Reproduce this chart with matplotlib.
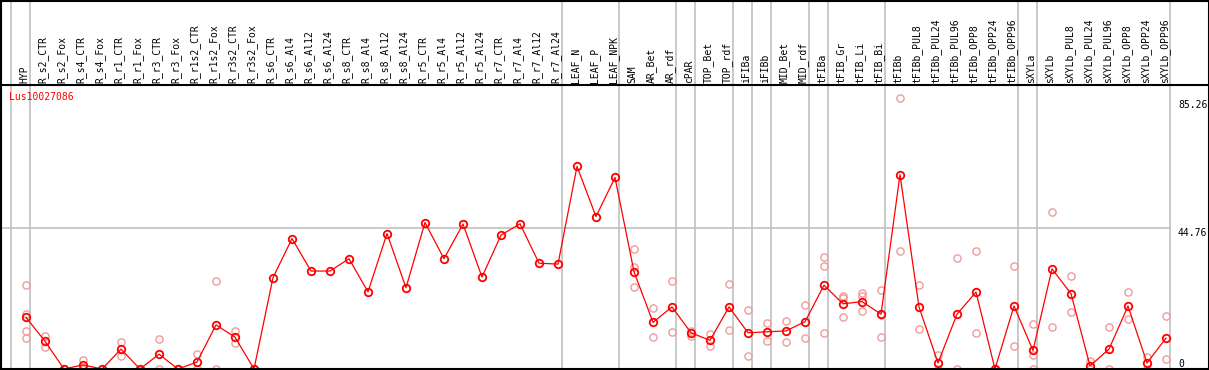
import numpy as np
import matplotlib.pyplot as plt
from matplotlib.lines import Line2D
import matplotlib.transforms as mtransforms

# etiquetas de las columnas (muestras)
muestras = [
    'HYP', 'R_s2_CTR', 'R_s2_Fox', 'R_s4_CTR', 'R_s4_Fox', 'R_r1_CTR', 'R_r1_Fox',
    'R_r3_CTR', 'R_r3_Fox', 'R_r1s2_CTR', 'R_r1s2_Fox', 'R_r3s2_CTR', 'R_r3s2_Fox',
    'R_s6_CTR', 'R_s6_Al4', 'R_s6_Al12', 'R_s6_Al24', 'R_s8_CTR', 'R_s8_Al4',
    'R_s8_Al12', 'R_s8_Al24', 'R_r5_CTR', 'R_r5_Al4', 'R_r5_Al12', 'R_r5_Al24',
    'R_r7_CTR', 'R_r7_Al4', 'R_r7_Al12', 'R_r7_Al24', 'LEAF_N', 'LEAF_P', 'LEAF_NPK',
    'SAM', 'AR_Bet', 'AR_rdf', 'cPAR', 'TOP_Bet', 'TOP_rdf', 'iFIBa', 'iFIBb',
    'MID_Bet', 'MID_rdf', 'tFIBa', 'tFIB_Gr', 'tFIB_Li', 'tFIB_Bi', 'tFIBb',
    'tFIBb_PUL8', 'tFIBb_PUL24', 'tFIBb_PUL96', 'tFIBb_OPP8', 'tFIBb_OPP24',
    'tFIBb_OPP96', 'sXYLa', 'sXYLb', 'sXYLb_PUL8', 'sXYLb_PUL24', 'sXYLb_PUL96',
    'sXYLb_OPP8', 'sXYLb_OPP24', 'sXYLb_OPP96',
]

# valores medios
medias = [
    16.4, 8.8, 0, 1.3, 0, 6.3, 0, 4.7, 0, 2.2, 14.0, 10.1, 0,
    29.0, 41.4, 31.1, 31.1, 35.0, 24.5, 43.0, 25.8, 46.5, 35.0, 46.0, 29.2,
    42.5, 46.1, 33.6, 33.3, 64.3, 48.4, 60.8,
    30.9, 14.8, 19.7, 11.5, 9.1, 19.7, 11.5, 11.8, 12.1, 15.0,
    26.6, 20.7, 21.4, 17.4, 61.7, 19.7, 1.9, 17.4, 24.4, 0, 20.0,
    5.9, 31.8, 23.9, 1.0, 6.3, 20.0, 1.9, 9.8,
]

# replicas individuales
replicas = [
    [26.6, 17.6, 12.0, 9.9], [10.6, 7.1], [0, 0], [2.8, 0], [0, 0], [8.6, 4.0],
    [0, 0], [9.4, 0], [0, 0], [4.7, 0], [28.0, 0], [12.0, 8.4], [0, 0],
    [], [], [], [], [], [], [], [], [], [], [], [], [], [], [], [], [], [], [],
    [38.2, 32.3, 26.1], [19.3, 10.1], [28.0, 11.8], [12.1, 10.6], [11.2, 7.2],
    [26.9, 12.4], [18.7, 4.1], [14.6, 8.8], [15.2, 8.6], [20.4, 9.9],
    [35.5, 32.7, 11.3], [23.3, 22.5, 16.4], [24.1, 23.3, 18.3], [25.0, 17.2, 10.1],
    [86.1, 37.4], [26.6, 12.6], [4.5, 0], [35.3, 0], [37.5, 11.3], [0, 0],
    [32.7, 7.2], [14.3, 4.3, 0], [49.9, 13.4], [29.6, 18.0], [2.4, 0], [13.2, 0],
    [24.5, 15.9], [3.9, 0], [16.9, 3.1],
]

# ultimo indice de cada grupo (lineas grises separadoras)
fin_grupos = [-1, 0, 28, 31, 34, 35, 37, 38, 39, 41, 42, 45, 52, 53, 60]

marcas_y = [85.26, 44.76, 0]
gen_id = 'Lus10027086'

W, H = 1209, 370
GRIS = '#c0c0c0'
ROJO = '#ff0000'
ROSA = '#f09c9c'
fuente = 'DejaVu Sans Mono'
tam = 7.0

fig = plt.figure(figsize=(W / 100, H / 100), dpi=100)

# area del grafico en pixeles: x 1..1171, y 85..369
izq, der, arr, aba = 1, 1171, 85, 369
ax = fig.add_axes([izq / W, 1 - aba / H, (der - izq) / W, (aba - arr) / H])
paso = 19.0
px_por_unidad = 141 / 44.76
ax.set_xlim((izq - 26) / paso, (der - 26) / paso)
ax.set_ylim(0, (aba - arr) / px_por_unidad)
for s in ax.spines.values():
    s.set_visible(False)
ax.set_xticks([])
ax.set_yticks([])

x = np.arange(len(muestras))

# lineas grises
ax.axhline(44.76, color=GRIS, lw=1.2, zorder=1)
y_top = aba / (aba - arr)
for k in fin_grupos:
    ax.axvline(k + 4 / paso, ymin=0, ymax=y_top, color=GRIS, lw=1.2,
               clip_on=False, zorder=1)

# replicas
for i, vals in enumerate(replicas):
    if vals:
        ax.plot([i] * len(vals), vals, 'o', ms=5.2, mfc='none', mec=ROSA,
                mew=1.0, zorder=2)

# medias
ax.plot(x, medias, '-', color=ROJO, lw=0.9, zorder=3)
ax.plot(x, medias, 'o', ms=5.4, mfc='none', mec=ROJO, mew=1.3, zorder=4)

# etiquetas de columnas
trans = mtransforms.blended_transform_factory(ax.transData, ax.transAxes)
for i, nombre in enumerate(muestras):
    ax.text(i - 0.1, 1.006, nombre, rotation=90, ha='center', va='bottom',
            fontsize=tam, family=fuente, transform=trans, clip_on=False)

# etiquetas del eje y a la derecha
trans_y = mtransforms.blended_transform_factory(ax.transAxes, ax.transData)
xt = (1178 - izq) / (der - izq)
for v in marcas_y:
    ax.text(xt, v, f'{v:g}' if v == 0 else f'{v:.2f}', ha='left',
            va='bottom' if v == 0 else 'top', fontsize=tam, family=fuente,
            transform=trans_y, clip_on=False)

ax.text(8 / (der - izq), 1 - 12 / (aba - arr), gen_id, color=ROJO, ha='left',
        va='center', fontsize=tam, family=fuente, transform=ax.transAxes)

# bordes negros
def linea(x0, y0, x1, y1):
    fig.add_artist(Line2D([x0 / W, x1 / W], [1 - y0 / H, 1 - y1 / H],
                          color='black', lw=1.5, transform=fig.transFigure))

linea(0, 0.5, W, 0.5)
linea(0, arr, W, arr)
linea(0, aba, W, aba)
linea(1, 0, 1, aba)
linea(W - 0.5, 0, W - 0.5, aba)

fig.savefig('out.png', dpi=100)
